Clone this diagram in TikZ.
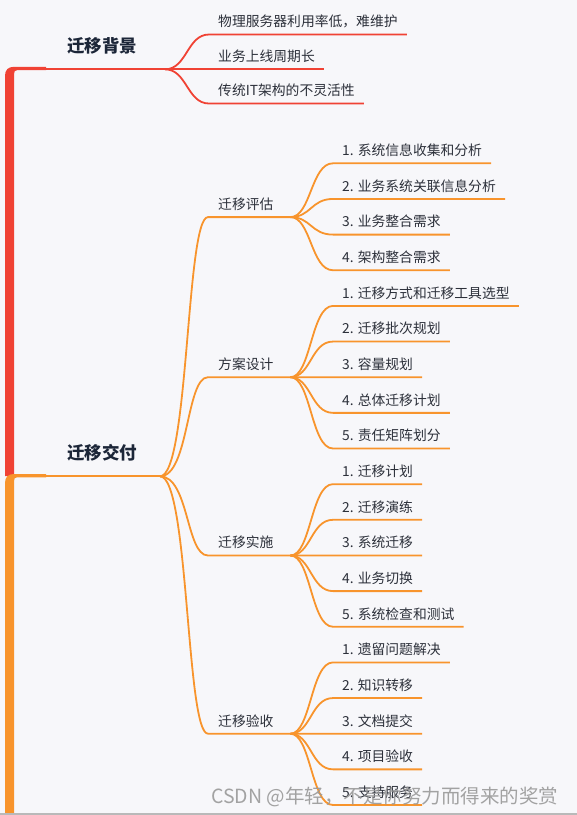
\documentclass[tikz,border=0pt]{standalone}
\usepackage{fontspec}
\setmainfont{Noto Sans CJK SC}
\usetikzlibrary{positioning}

\definecolor{bgred}{RGB}{240,66,52}
\definecolor{bgorange}{RGB}{248,148,44}
\definecolor{topicink}{RGB}{28,38,56}
\definecolor{leafink}{RGB}{44,48,58}
\definecolor{canvas}{RGB}{247,247,250}

\begin{document}
\begin{tikzpicture}[
        x=1pt,
        y=-1pt,
        every node/.style={font=\fontsize{13.8}{16}\selectfont, text=leafink},
        topic/.style={
            anchor=base west,
            inner sep=0pt,
            font=\fontsize{17.5}{20}\selectfont\bfseries,
            text=topicink
        },
        sub/.style={
            anchor=south west,
            text width=62pt,
            align=left,
            inner xsep=10pt,
            inner ysep=4.5pt,
            text height=11pt,
            text depth=3pt
        },
        leaf/.style={
            anchor=south west,
            inner xsep=9pt,
            inner ysep=4.5pt,
            text height=11pt,
            text depth=3pt
        },
        branch/.style={
            line width=1.8pt
        }
    ]

    % background
    \fill[canvas] (0,0) rectangle (577,815);
    \useasboundingbox (0,0) rectangle (577,815);

    % side bars
    \fill[bgred] (5,476) -- (5,76) .. controls (5,70) and (8,66.8) .. (14,66.8) -- (46,66.8) -- (46,70.2)
        -- (17,70.2) .. controls (15,70.2) and (14,71.5) .. (14,74) -- (14,476) -- cycle;
    \fill[bgorange] (5,815) -- (5,483) .. controls (5,477) and (8,474) .. (14,474) -- (46,474) -- (46,477.3)
        -- (17,477.3) .. controls (15,477.3) and (14,478.5) .. (14,481) -- (14,815) -- cycle;
    \fill[gray!55] (0,812.5) rectangle (577,815);

    % main nodes
    \node[topic] (background) at (67,52) {迁移背景};
    \node[topic] (delivery) at (67,459) {迁移交付};

    \coordinate (bgstart) at (14,69.3);
    \coordinate (bgroot) at (165,69.3);
    \coordinate (dlstart) at (14,476.3);
    \coordinate (dlroot) at (160,476.3);
    \draw[branch, bgred] (bgstart) -- (bgroot);
    \draw[branch, bgorange] (dlstart) -- (dlroot);

    % background leaves
    \foreach \i/\y/\txt in {1/34.5/物理服务器利用率低，难维护, 2/69.3/业务上线周期长, 3/103.5/传统IT架构的不灵活性} {
        \node[leaf] (bg\i) at (209,\y) {\txt};
        \draw[branch, bgred] (bgroot) .. controls (187,69.3) and (187,\y) .. (bg\i.south west) -- (bg\i.south east);
    }

    % sub nodes
    \foreach \n/\y/\txt in {assess/217.1/迁移评估, design/377.2/方案设计, exec/555.5/迁移实施, accept/733.7/迁移验收} {
        \node[sub] (\n) at (208,\y) {\txt};
        \draw[branch, bgorange] (dlroot) .. controls (189,476.3) and (186,\y) .. (\n.south west) -- (\n.south east);
    }

    % leaves
    \foreach \p/\txt [count=\i from 0] in {
            assess/1. 系统信息收集和分析, assess/2. 业务系统关联信息分析, assess/3. 业务整合需求, assess/4. 架构整合需求,
            design/1. 迁移方式和迁移工具选型, design/2. 迁移批次规划, design/3. 容量规划, design/4. 总体迁移计划, design/5. 责任矩阵划分,
            exec/1. 迁移计划, exec/2. 迁移演练, exec/3. 系统迁移, exec/4. 业务切换, exec/5. 系统检查和测试,
            accept/1. 遗留问题解决, accept/2. 知识转移, accept/3. 文档提交, accept/4. 项目验收, accept/5. 支持服务} {
        \node[leaf] (L\i) at (333,{163.3+35.65*\i}) {\txt};
        \draw[branch, bgorange] (\p.south east) .. controls (311,0 |- \p.south east) and (311,0 |- L\i.south west)
            .. (L\i.south west) -- (L\i.south east);
    }

    % watermark
    \node[anchor=base west, inner sep=0pt, font=\fontsize{19.5}{22}\selectfont, text=gray!80, text opacity=0.9] (mark)
        at (211,803) {CSDN @年轻，不是你努力而得来的奖赏};

\end{tikzpicture}
\end{document}
